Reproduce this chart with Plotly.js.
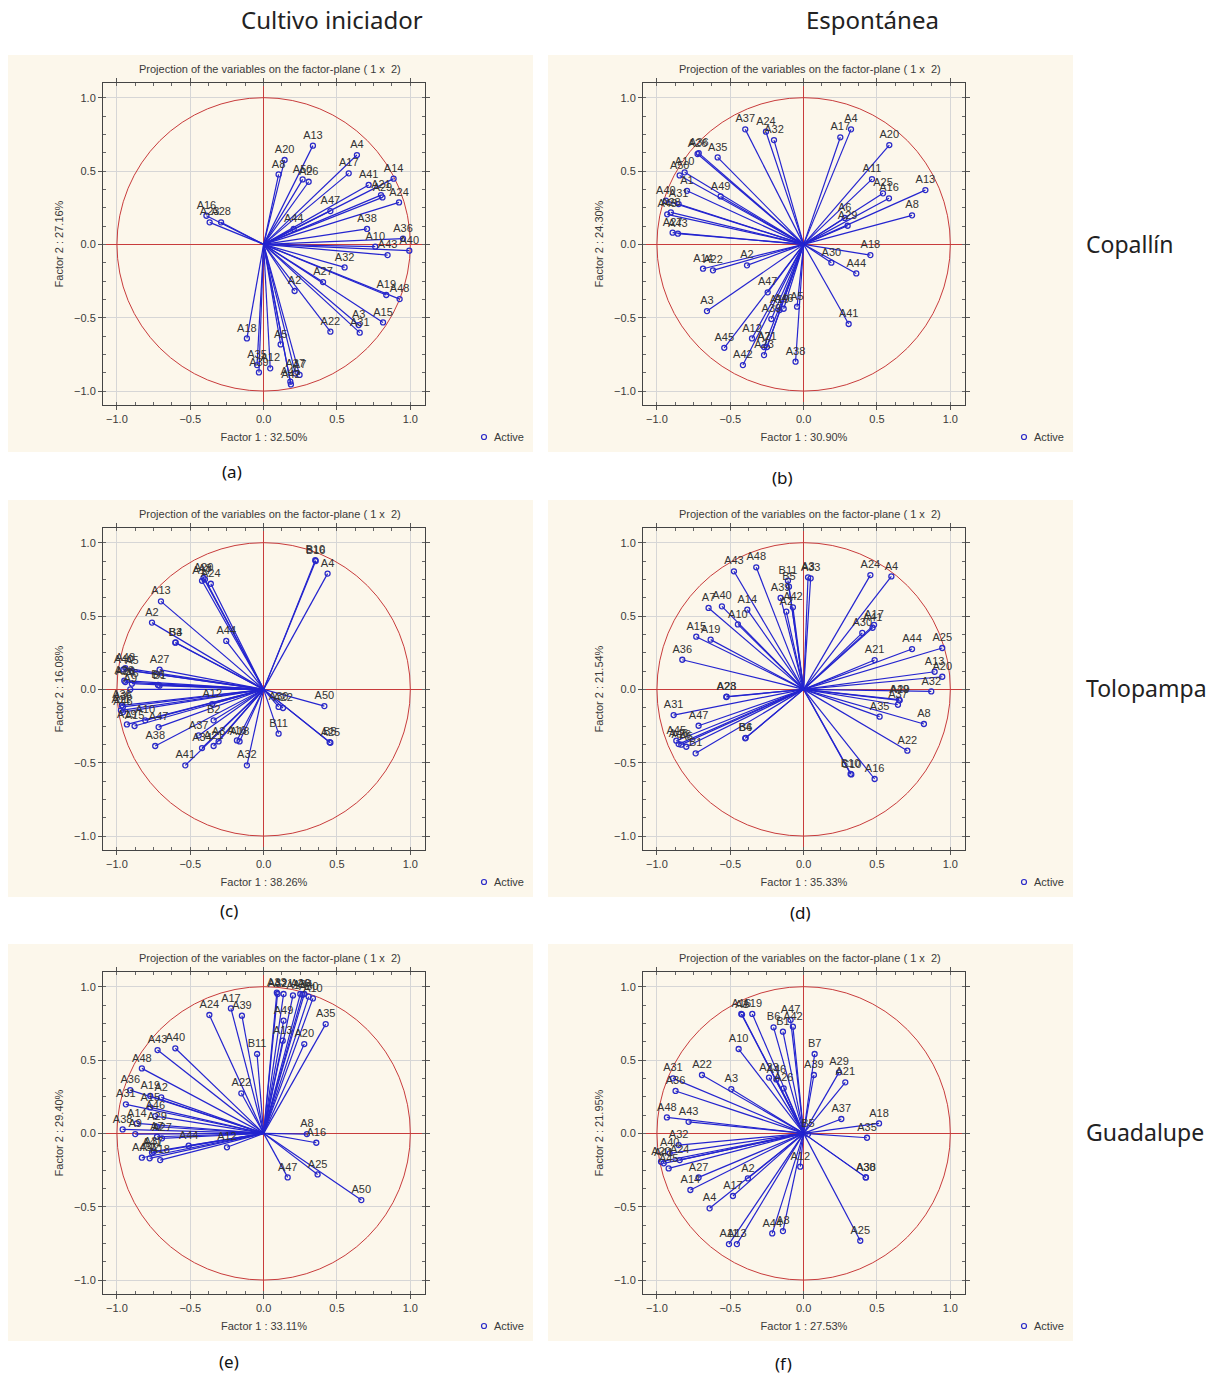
<!DOCTYPE html>
<html>
<head>
<meta charset="utf-8">
<script src="https://cdn.plot.ly/plotly-3.0.1.min.js"></script>
<style>html,body{margin:0;padding:0;background:#fff;}#chart{width:1219px;height:1377px;}</style>
</head>
<body>
<div id="chart"></div>
<script>
// ---------------- DATA ----------------
const columnNames = ['Cultivo iniciador', 'Espontánea'];
const rowNames = ['Copallín', 'Tolopampa', 'Guadalupe'];
const panelTags = ['(a)', '(b)', '(c)', '(d)', '(e)', '(f)'];
const factor1Pct = ['32.50', '30.90', '38.26', '35.33', '33.11', '27.53'];
const factor2Pct = ['27.16', '24.30', '16.08', '21.54', '29.40', '21.95'];
const panelTitle = 'Projection of the variables on the factor-plane ( 1 x \u00a02)';
const legendName = 'Active';

// (a) Cultivo iniciador - Copallín
const labelsA = ['A13','A20','A8','A50','A26','A4','A17','A14','A41','A21','A29','A24','A47','A38','A44','A36','A10','A40','A43','A32','A27','A2','A19','A48','A15','A3','A31','A22','A16','A23','A28','A18','A5','A35','A39','A12','A37','A7','A45','A42'];
const xA = [0.336,0.143,0.102,0.266,0.307,0.636,0.580,0.886,0.716,0.80,0.81,0.923,0.455,0.705,0.205,0.95,0.761,0.993,0.845,0.552,0.405,0.211,0.836,0.927,0.814,0.648,0.655,0.455,-0.39,-0.368,-0.29,-0.114,0.116,-0.045,-0.032,0.045,0.216,0.245,0.182,0.186];
const yA = [0.673,0.575,0.477,0.443,0.427,0.609,0.484,0.448,0.405,0.336,0.320,0.286,0.227,0.105,0.105,0.039,-0.016,-0.043,-0.073,-0.157,-0.257,-0.318,-0.345,-0.373,-0.532,-0.55,-0.602,-0.595,0.195,0.15,0.15,-0.641,-0.682,-0.823,-0.873,-0.845,-0.88,-0.89,-0.936,-0.955];

// (b) Espontánea - Copallín
const labelsB = ['A37','A24','A32','A17','A4','A20','A26','A36','A35','A10','A50','A1','A49','A40','A31','A48','A28','A27','A43','A11','A25','A16','A13','A8','A6','A29','A18','A30','A44','A41','A38','A5','A46','A19','A47','A39','A12','A7','A21','A23','A42','A45','A3','A2','A14','A22'];
const xB = [-0.398,-0.257,-0.202,0.25,0.323,0.584,-0.723,-0.715,-0.586,-0.811,-0.845,-0.795,-0.566,-0.939,-0.852,-0.93,-0.905,-0.893,-0.857,0.466,0.541,0.582,0.83,0.739,0.28,0.3,0.455,0.189,0.359,0.307,-0.055,-0.045,-0.136,-0.164,-0.245,-0.22,-0.352,-0.27,-0.25,-0.27,-0.414,-0.541,-0.659,-0.386,-0.686,-0.618];
const yB = [0.784,0.768,0.711,0.73,0.784,0.677,0.616,0.622,0.593,0.491,0.47,0.365,0.327,0.298,0.275,0.205,0.218,0.08,0.073,0.445,0.348,0.314,0.37,0.198,0.18,0.127,-0.073,-0.125,-0.198,-0.543,-0.8,-0.425,-0.439,-0.448,-0.327,-0.509,-0.641,-0.70,-0.70,-0.755,-0.823,-0.705,-0.455,-0.143,-0.166,-0.177];

// (c) Cultivo iniciador - Tolopampa
const labelsC = ['B10','B16','A4','A20','A8','A17','A24','A13','A2','B3','B4','A44','A27','B1','B6','A40','A48','A5','A26','A28','A6','A9','A35','A36','A11','A46','A19','A15','A10','A47','A38','A12','B2','A37','A3','A21','A34','A16','A18','A41','A32','A22','A30','A50','B11','A25','B5'];
const xC = [0.352,0.355,0.436,-0.41,-0.40,-0.42,-0.36,-0.70,-0.761,-0.602,-0.60,-0.255,-0.709,-0.71,-0.72,-0.955,-0.943,-0.898,-0.943,-0.95,-0.898,-0.909,-0.959,-0.966,-0.973,-0.959,-0.932,-0.88,-0.807,-0.716,-0.739,-0.35,-0.341,-0.443,-0.307,-0.341,-0.42,-0.182,-0.164,-0.534,-0.114,0.132,0.102,0.414,0.102,0.455,0.45];
const yC = [0.88,0.875,0.789,0.76,0.75,0.74,0.72,0.60,0.455,0.318,0.32,0.33,0.134,0.025,0.03,0.136,0.145,0.125,0.05,0.059,0.039,0.0,-0.12,-0.109,-0.143,-0.155,-0.239,-0.25,-0.211,-0.257,-0.386,-0.10,-0.211,-0.314,-0.355,-0.386,-0.40,-0.348,-0.355,-0.518,-0.518,-0.127,-0.12,-0.114,-0.302,-0.364,-0.36];

// (d) Espontánea - Tolopampa
const labelsD = ['A43','A48','B11','B5','A39','A2','A42','A3','A33','A24','A4','A17','A41','A30','A44','A25','A21','A13','A20','A32','A29','A49','A37','A35','A8','A22','B10','C10','A16','A31','A47','A45','A46','A26','A5','B1','B4','B6','A23','A28','A36','A15','A19','A10','A14','A7','A40'];
const xD = [-0.475,-0.323,-0.107,-0.10,-0.157,-0.118,-0.073,0.03,0.048,0.455,0.598,0.48,0.47,0.40,0.739,0.945,0.484,0.893,0.945,0.87,0.655,0.65,0.643,0.518,0.82,0.707,0.32,0.325,0.484,-0.886,-0.716,-0.868,-0.852,-0.834,-0.80,-0.736,-0.398,-0.395,-0.527,-0.525,-0.827,-0.732,-0.634,-0.448,-0.384,-0.648,-0.557];
const yD = [0.805,0.832,0.741,0.70,0.623,0.53,0.559,0.764,0.757,0.779,0.77,0.44,0.42,0.385,0.275,0.282,0.20,0.12,0.086,-0.014,-0.075,-0.07,-0.105,-0.186,-0.236,-0.418,-0.577,-0.58,-0.611,-0.175,-0.248,-0.35,-0.373,-0.377,-0.391,-0.436,-0.334,-0.33,-0.052,-0.05,0.202,0.359,0.339,0.443,0.543,0.555,0.566];

// (e) Cultivo iniciador - Guadalupe
const labelsE = ['A33','A32','A21','A1','A26','A34','A6','A30','A49','A13','A20','A35','A17','A39','A24','B11','A43','A40','A48','A22','A36','A19','A2','A31','A15','A46','A14','A29','A38','A9','A7','A27','A44','A12','A45','A42','A41','A18','A37','A8','A16','A47','A25','A50','A10'];
const xE = [0.09,0.095,0.136,0.20,0.25,0.265,0.277,0.307,0.136,0.13,0.277,0.423,-0.223,-0.148,-0.37,-0.045,-0.723,-0.602,-0.83,-0.152,-0.909,-0.773,-0.698,-0.939,-0.773,-0.739,-0.864,-0.727,-0.961,-0.875,-0.727,-0.693,-0.511,-0.25,-0.83,-0.777,-0.761,-0.705,-0.75,0.295,0.359,0.164,0.368,0.666,0.336];
const yE = [0.96,0.95,0.95,0.94,0.95,0.945,0.95,0.932,0.768,0.632,0.609,0.745,0.852,0.802,0.807,0.541,0.568,0.58,0.443,0.273,0.295,0.255,0.245,0.198,0.177,0.118,0.068,0.045,0.027,-0.005,-0.023,-0.034,-0.084,-0.095,-0.166,-0.17,-0.132,-0.182,-0.125,-0.005,-0.064,-0.30,-0.28,-0.455,0.92];

// (f) Espontánea - Guadalupe
const labelsF = ['A16','A1','A19','A47','A42','B6','B1','B7','A10','A29','A21','A39','A22','A3','A23','A46','A26','A31','A36','A48','A43','A37','A18','A35','A30','A38','A25','A12','B5','A44','A8','A11','A13','A4','A17','A2','A14','A27','A32','A40','A24','A20','A41','A45'];
const xF = [-0.425,-0.42,-0.35,-0.089,-0.073,-0.205,-0.141,0.075,-0.443,0.241,0.284,0.07,-0.693,-0.493,-0.236,-0.186,-0.136,-0.891,-0.873,-0.932,-0.784,0.257,0.514,0.432,0.423,0.425,0.386,-0.023,0.03,-0.214,-0.141,-0.509,-0.455,-0.641,-0.482,-0.38,-0.772,-0.716,-0.852,-0.913,-0.845,-0.972,-0.954,-0.92];
const yF = [0.814,0.81,0.814,0.773,0.727,0.723,0.693,0.541,0.575,0.416,0.348,0.398,0.398,0.302,0.38,0.368,0.307,0.375,0.289,0.109,0.079,0.098,0.068,-0.03,-0.30,-0.30,-0.732,-0.227,-0.005,-0.682,-0.666,-0.755,-0.755,-0.511,-0.427,-0.307,-0.386,-0.30,-0.08,-0.136,-0.182,-0.193,-0.204,-0.239];

// ---------------- LAYOUT HELPERS ----------------
const W = 1219, H = 1377;
const px = p => p / W;
const py = p => 1 - p / H;
const colOff = [0, 540];
const rowOff = [0, 445, 889];
const tagPos = [[232, 471], [782, 477], [229, 910], [800, 912], [229, 1361], [783, 1363]];
const panels = [
  {lab: labelsA, x: xA, y: yA},
  {lab: labelsB, x: xB, y: yB},
  {lab: labelsC, x: xC, y: yC},
  {lab: labelsD, x: xD, y: yD},
  {lab: labelsE, x: xE, y: yE},
  {lab: labelsF, x: xF, y: yF}
];

const FONT = 'Liberation Sans, Arial, sans-serif';
const HFONT = 'Noto Sans, Open Sans, sans-serif';
const traces = [];
const layout = {
  width: W, height: H,
  margin: {l: 0, r: 0, t: 0, b: 0},
  paper_bgcolor: '#ffffff',
  plot_bgcolor: '#ffffff',
  showlegend: false,
  shapes: [],
  annotations: []
};

panels.forEach((p, i) => {
  const col = i % 2, row = Math.floor(i / 2);
  const dx = colOff[col], dy = rowOff[row];
  const suf = i === 0 ? '' : String(i + 1);
  const xa = 'x' + suf, ya = 'y' + suf;

  // vectors from origin
  const lx = [], ly = [];
  for (let k = 0; k < p.x.length; k++) { lx.push(0, p.x[k], null); ly.push(0, p.y[k], null); }
  traces.push({
    type: 'scatter', mode: 'lines', x: lx, y: ly, xaxis: xa, yaxis: ya,
    line: {color: '#2424cf', width: 1.2}, hoverinfo: 'skip', showlegend: false
  });
  traces.push({
    type: 'scatter', mode: 'markers+text', x: p.x, y: p.y, text: p.lab,
    xaxis: xa, yaxis: ya, name: legendName,
    textposition: 'top center', cliponaxis: false,
    textfont: {family: FONT, size: 11, color: '#333333'},
    marker: {symbol: 'circle-open', size: 5, color: '#2a2ac8', line: {width: 1.3, color: '#2a2ac8'}},
    showlegend: false
  });

  const axBase = {
    range: [-1.095, 1.1], dtick: 0.5, tick0: 0, tickformat: '.1f',
    ticks: 'outside', ticklen: 4, tickcolor: '#555', tickwidth: 1,
    showline: true, linecolor: '#444', linewidth: 1, mirror: 'ticks',
    showgrid: true, gridcolor: '#d6d6d6', gridwidth: 1,
    zeroline: true, zerolinecolor: '#c83c3c', zerolinewidth: 1,
    tickfont: {family: FONT, size: 11, color: '#3a3a3a'},
    minor: {dtick: 0.125, tick0: 0, ticks: 'inside', ticklen: 3, tickcolor: '#666', showgrid: false},
    fixedrange: true
  };
  layout['xaxis' + suf] = Object.assign({}, axBase, {
    domain: [px(103 + dx), px(425 + dx)], anchor: ya,
    title: {text: 'Factor 1 : ' + factor1Pct[i] + '%', font: {family: FONT, size: 11, color: '#3a3a3a'}, standoff: 9}
  });
  layout['yaxis' + suf] = Object.assign({}, axBase, {
    domain: [py(405 + dy), py(83 + dy)], anchor: xa,
    title: {text: 'Factor 2 : ' + factor2Pct[i] + '%', font: {family: FONT, size: 11, color: '#3a3a3a'}, standoff: 8}
  });

  // beige panel background
  layout.shapes.push({
    type: 'rect', xref: 'paper', yref: 'paper', layer: 'below',
    x0: px(8 + dx), x1: px(533 + dx), y0: py(452 + dy), y1: py(55 + dy),
    fillcolor: '#fcf7eb', line: {width: 0}
  });
  // unit circle
  layout.shapes.push({
    type: 'circle', xref: xa, yref: ya, layer: 'between',
    x0: -1, x1: 1, y0: -1, y1: 1,
    line: {color: '#c83c3c', width: 1}
  });
  // legend marker
  layout.shapes.push({
    type: 'circle', xref: 'paper', yref: 'paper', layer: 'above',
    x0: px(481.5 + dx), x1: px(486.5 + dx), y0: py(439.5 + dy), y1: py(434.5 + dy),
    line: {color: '#2a2ac8', width: 1.2}
  });
  layout.annotations.push({
    xref: 'paper', yref: 'paper', x: px(492 + dx), y: py(437 + dy),
    xanchor: 'left', yanchor: 'middle', showarrow: false,
    text: legendName, font: {family: FONT, size: 11, color: '#3a3a3a'}
  });
  // panel title
  layout.annotations.push({
    xref: 'paper', yref: 'paper', x: px(270 + dx), y: py(69 + dy),
    xanchor: 'center', yanchor: 'middle', showarrow: false,
    text: panelTitle, font: {family: FONT, size: 11, color: '#3a3a3a'}
  });
  // panel tag
  layout.annotations.push({
    xref: 'paper', yref: 'paper', x: px(tagPos[i][0]), y: py(tagPos[i][1]),
    xanchor: 'center', yanchor: 'middle', showarrow: false,
    text: panelTags[i], font: {family: HFONT, size: 17, color: '#111'}
  });
});

// column headers
[332, 872].forEach((cx, c) => {
  layout.annotations.push({
    xref: 'paper', yref: 'paper', x: px(cx), y: py(20),
    xanchor: 'center', yanchor: 'middle', showarrow: false,
    text: columnNames[c], font: {family: HFONT, size: 24, color: '#222'}
  });
});
// row labels
[244, 688, 1132].forEach((cy, r) => {
  layout.annotations.push({
    xref: 'paper', yref: 'paper', x: px(1084), y: py(cy),
    xanchor: 'left', yanchor: 'middle', showarrow: false,
    text: rowNames[r], font: {family: HFONT, size: 23, color: '#222'}
  });
});

Plotly.newPlot('chart', traces, layout, {displayModeBar: false, staticPlot: true});
</script>
</body>
</html>
